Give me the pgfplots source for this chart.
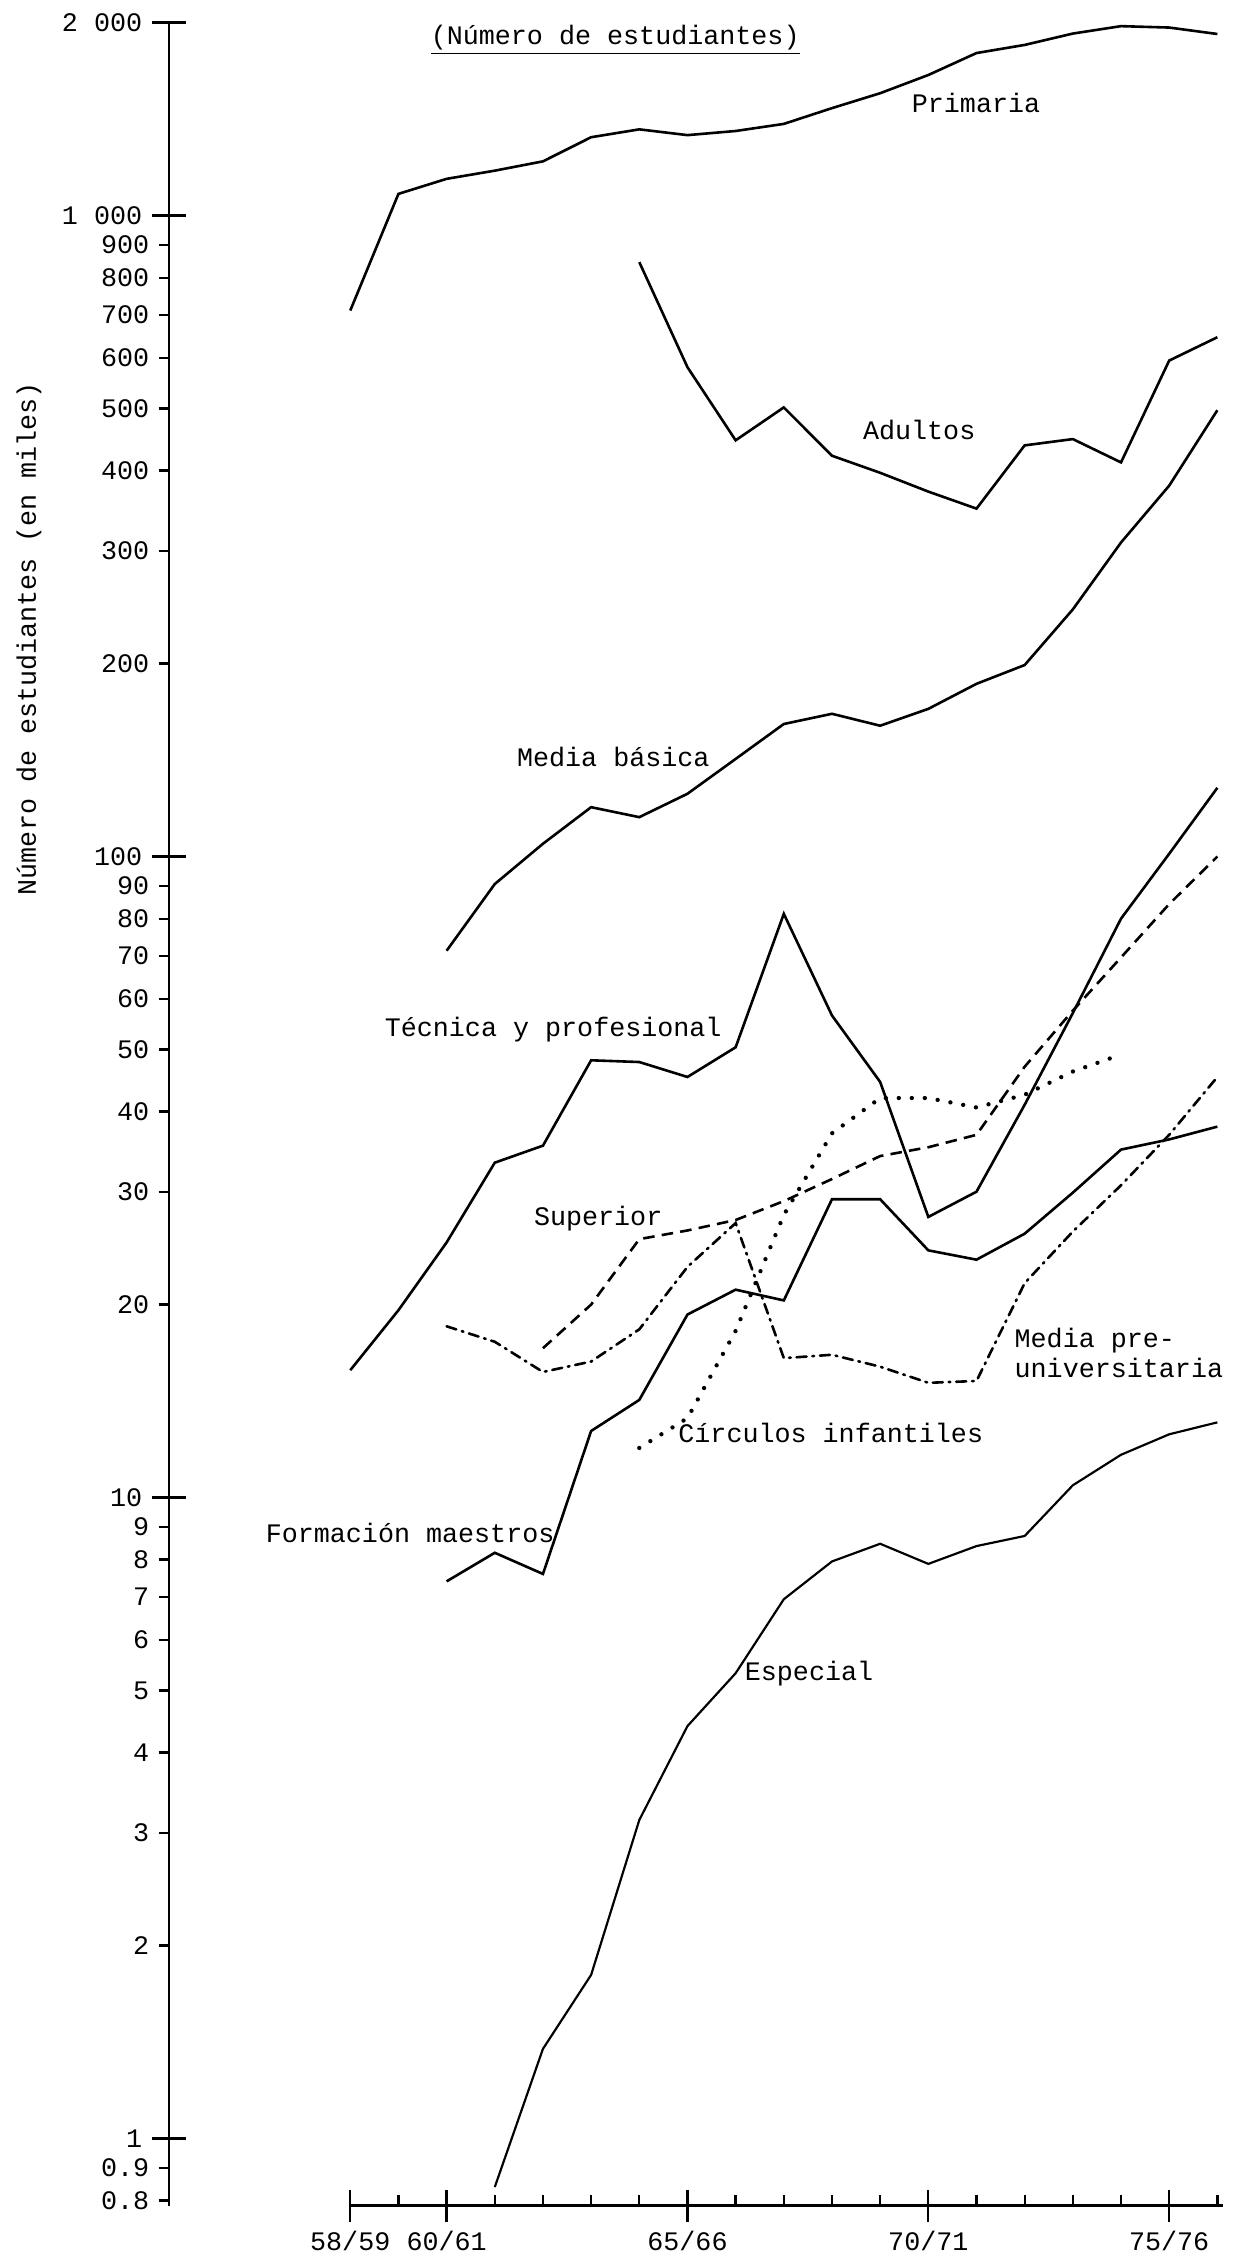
\documentclass[border=0pt]{standalone}
\usepackage{fontspec}
\setmainfont{Liberation Mono}
\usepackage{pgfplots}
\pgfplotsset{compat=1.18}
\begin{document}
\fontsize{9.25}{10.4}\selectfont
\begin{tikzpicture}
\useasboundingbox (-58.5pt,-20.5pt) rectangle (371pt,763.55pt);
\begin{axis}[
  at={(0,0)}, anchor=south west,
  scale only axis, width=365.4pt, height=755.7pt,
  ymode=log, xmin=-3.763, xmax=18.15, ymin=0.7855, ymax=2000,
  enlargelimits=false, clip=false,
  axis y line*=left, axis x line*=bottom,
  x axis line style={draw=none},
  y axis line style={line width=0.9pt},
  xtick align=inside, ytick align=outside,
  major tick length=3.6pt,
  tick style={black, line width=0.8pt},
  xtick={1,3,4,5,6,8,9,10,11,13,14,15,16,18},
  xticklabels={},
  extra x ticks={0,2,7,12,17},
  extra x tick labels={58/59,60/61,65/66,70/71,75/76},
  extra x tick style={major tick length=11pt, xtick align=center},
  ytick={0.8,0.9,2,3,4,5,6,7,8,9,20,30,40,50,60,70,80,90,200,300,400,500,600,700,800,900},
  yticklabels={0.8,0.9,2,3,4,5,6,7,8,9,20,30,40,50,60,70,80,90,200,300,400,500,600,700,800,900},
  extra y ticks={1,10,100,1000,2000},
  extra y tick labels={1,10,100,1 000,2 000},
  extra y tick style={major tick length=12pt, ytick align=center},
  tick label style={font=\fontsize{9.25}{10}\selectfont},
  yticklabel style={anchor=east},
  xticklabel style={anchor=north},
]
% Primaria
\addplot[black, line width=0.9pt] coordinates {(0,711)(1,1081)(2,1141)(3,1175)(4,1215)(5,1325)(6,1363)(7,1335)(8,1355)(9,1390)(10,1471)(11,1552)(12,1657)(13,1793)(14,1846)(15,1923)(16,1975)(17,1965)(18,1920)};
% Adultos
\addplot[black, line width=0.9pt] coordinates {(6,846)(7,580)(8,446)(9,502)(10,422)(11,397)(12,371)(13,349)(14,438)(15,448)(16,412)(17,594)(18,646)};
% Media basica
\addplot[black, line width=0.9pt] coordinates {(2,71.3)(3,90.6)(4,104.7)(5,119.4)(6,115.2)(7,125.3)(8,142)(9,161)(10,167)(11,160)(12,170)(13,186)(14,199)(15,243)(16,309)(17,379)(18,497)};
% Tecnica y profesional
\addplot[black, line width=0.9pt] coordinates {(0,15.8)(1,19.6)(2,25)(3,33.3)(4,35.4)(5,48.1)(6,47.8)(7,45.3)(8,50.4)(9,81.4)(10,56.5)(11,44.5)(12,27.4)(13,30.0)(14,41)(15,57)(16,80)(17,101)(18,128)};
% Superior
\addplot[black, line width=0.9pt, dash pattern=on 4pt off 2.5pt] coordinates {(4,17.1)(5,20)(6,25.3)(7,26.1)(8,27.1)(9,29.0)(10,31.4)(11,34.1)(12,35.2)(13,36.8)(14,47)(15,57.5)(16,69.6)(17,84.3)(18,100)};
% Media pre-universitaria
\addplot[black, line width=0.9pt, line cap=round, dash pattern=on 3.5pt off 2pt on 0.6pt off 2pt] coordinates {(2,18.5)(3,17.5)(4,15.7)(5,16.3)(6,18.3)(7,22.9)(8,26.8)(9,16.5)(10,16.7)(11,16.0)(12,15.1)(13,15.2)(14,21.6)(15,26.0)(16,30.7)(17,36.8)(18,45.3)};
% Circulos infantiles
\addplot[black, line width=1.5pt, line cap=round, dash pattern=on 0pt off 4.5pt] coordinates {(6,11.95)(7,13.3)(8,18.2)(9,27.6)(10,37)(11,42.0)(12,42.0)(13,40.6)(14,42.5)(15,46.2)(16,49.1)};
% Formacion maestros
\addplot[black, line width=0.9pt] coordinates {(2,7.4)(3,8.2)(4,7.6)(5,12.7)(6,14.2)(7,19.3)(8,21.1)(9,20.3)(10,29.2)(11,29.2)(12,24.3)(13,23.5)(14,25.8)(15,29.9)(16,34.9)(17,36.2)(18,37.9)};
% Especial
\addplot[black, line width=0.75pt] coordinates {(3,0.84)(4,1.38)(5,1.80)(6,3.14)(7,4.40)(8,5.32)(9,6.94)(10,7.95)(11,8.47)(12,7.88)(13,8.40)(14,8.71)(15,10.45)(16,11.66)(17,12.55)(18,13.1)};

% x axis line (from 58/59 only)
\draw[black, line width=0.9pt] (axis cs:0,0.7855) -- (axis cs:18.12,0.7855);

% labels
\begin{scope}[every node/.style={inner sep=0pt, font=\fontsize{9.25}{10.4}\selectfont}]
\node at (axis cs:5.50,1879) {\underline{(Número de estudiantes)}};
\node at (axis cs:12.99,1497) {Primaria};
\node at (axis cs:11.81,463) {Adultos};
\node at (axis cs:5.46,143) {Media básica};
\node[anchor=east] at (axis cs:7.72,53.7) {Técnica y profesional};
\node[anchor=east] at (axis cs:6.49,27.2) {Superior};
\node[anchor=west, align=left] at (axis cs:13.78,16.8) {Media pre-\\universitaria};
\node[anchor=west] at (axis cs:6.80,12.6) {Círculos infantiles};
\node[anchor=east] at (axis cs:4.25,8.80) {Formación maestros};
\node[anchor=west] at (axis cs:8.18,5.32) {Especial};
\end{scope}
\end{axis}
\node[rotate=90, inner sep=0pt, font=\fontsize{9.25}{10.4}\selectfont] at (-48.5pt,542.5pt) {Número de estudiantes (en miles)};
\end{tikzpicture}
\end{document}
